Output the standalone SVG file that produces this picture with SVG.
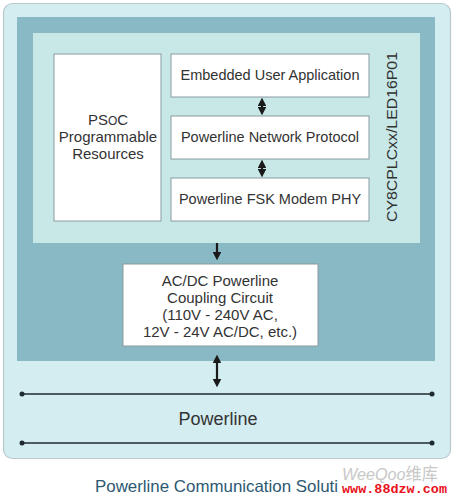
<svg xmlns="http://www.w3.org/2000/svg" width="456" height="500" viewBox="0 0 456 500">
<defs>
<style>
.box{fill:#ffffff;stroke:#8a9a9e;stroke-width:1}
.t{font-family:"Liberation Sans","DejaVu Sans",sans-serif;fill:#333333;text-anchor:middle}
.conn{stroke:#1a1a1a;stroke-width:2.2;fill:none}
.bus{stroke:#1f2a2e;stroke-width:1.6}
</style>
<marker id="ah" markerWidth="4" markerHeight="4" refX="2" refY="2" orient="auto-start-reverse" markerUnits="strokeWidth">
<path d="M0,0 L4,2 L0,4 Z" fill="#1a1a1a"/>
</marker>
</defs>
<rect x="0" y="0" width="456" height="500" fill="#ffffff"/>
<rect id="outer" x="3.5" y="3.5" width="447" height="455" rx="9" fill="#d3edf0" stroke="#b9c9cc" stroke-width="1.2"/>
<rect id="band" x="17" y="17" width="418" height="344" fill="#89b9c5"/>
<rect id="chip" x="33" y="33" width="387" height="210" fill="#c7e8e6"/>
<g id="psoc">
<rect class="box" x="54" y="54" width="107" height="167"/>
<text class="t" font-size="15" x="108" y="125">PS<tspan font-size="12">O</tspan>C</text>
<text class="t" font-size="15" x="108" y="142">Programmable</text>
<text class="t" font-size="15" x="108" y="159">Resources</text>
</g>
<g id="app">
<rect class="box" x="171" y="54" width="198" height="43"/>
<text class="t" font-size="14.5" x="270" y="80">Embedded User Application</text>
</g>
<g id="netproto">
<rect class="box" x="171" y="116" width="198" height="43"/>
<text class="t" font-size="14.5" x="270" y="142">Powerline Network Protocol</text>
</g>
<g id="phy">
<rect class="box" x="171" y="178" width="198" height="43"/>
<text class="t" font-size="14.5" x="270" y="204">Powerline FSK Modem PHY</text>
</g>
<g id="chiplabel">
<text class="t" font-size="15.5" transform="translate(397,137) rotate(-90)" textLength="170" lengthAdjust="spacingAndGlyphs">CY8CPLCxx/LED16P01</text>
</g>
<g id="coupling">
<rect class="box" x="123" y="264" width="195" height="82"/>
<text class="t" font-size="15" x="220" y="286">AC/DC Powerline</text>
<text class="t" font-size="15" x="220" y="303">Coupling Circuit</text>
<text class="t" font-size="15" x="220" y="320">(110V - 240V AC,</text>
<text class="t" font-size="15" x="220" y="337">12V - 24V AC/DC, etc.)</text>
</g>
<g id="powerline">
<line class="bus" x1="22" y1="394" x2="432" y2="394"/>
<line class="bus" x1="22" y1="443" x2="432" y2="443"/>
<circle cx="22" cy="394" r="2.5" fill="#1f2a2e"/>
<circle cx="432" cy="394" r="2.5" fill="#1f2a2e"/>
<circle cx="22" cy="443" r="2.5" fill="#1f2a2e"/>
<circle cx="432" cy="443" r="2.5" fill="#1f2a2e"/>
<text class="t" font-size="18" x="218" y="425">Powerline</text>
</g>
<g id="connectors">
<line class="conn" x1="262" y1="102" x2="262" y2="111" marker-start="url(#ah)" marker-end="url(#ah)"/>
<line class="conn" x1="262" y1="164" x2="262" y2="173" marker-start="url(#ah)" marker-end="url(#ah)"/>
<line class="conn" x1="217" y1="243" x2="217" y2="256" marker-end="url(#ah)"/>
<line class="conn" x1="217" y1="359" x2="217" y2="383" marker-start="url(#ah)" marker-end="url(#ah)"/>
</g>
<text class="t" font-size="16.5" x="95" y="492" textLength="243" lengthAdjust="spacingAndGlyphs" style="text-anchor:start;fill:#2d5872">Powerline Communication Soluti</text>
<g id="watermark">
<rect x="338" y="463" width="113" height="37" fill="#ffffff" fill-opacity="0.85"/>
<text x="342" y="480" font-family="'Liberation Sans','Noto Sans CJK SC',sans-serif" font-size="17" font-style="italic" fill="#c8c8c8" textLength="96" lengthAdjust="spacingAndGlyphs">WeeQoo<tspan font-style="normal">维库</tspan></text>
<text x="342" y="493" font-family="'Liberation Mono',monospace" font-size="13.5" font-weight="bold" fill="#e8101a" textLength="105" lengthAdjust="spacingAndGlyphs">www.88dzw.com</text>
</g>
</svg>
